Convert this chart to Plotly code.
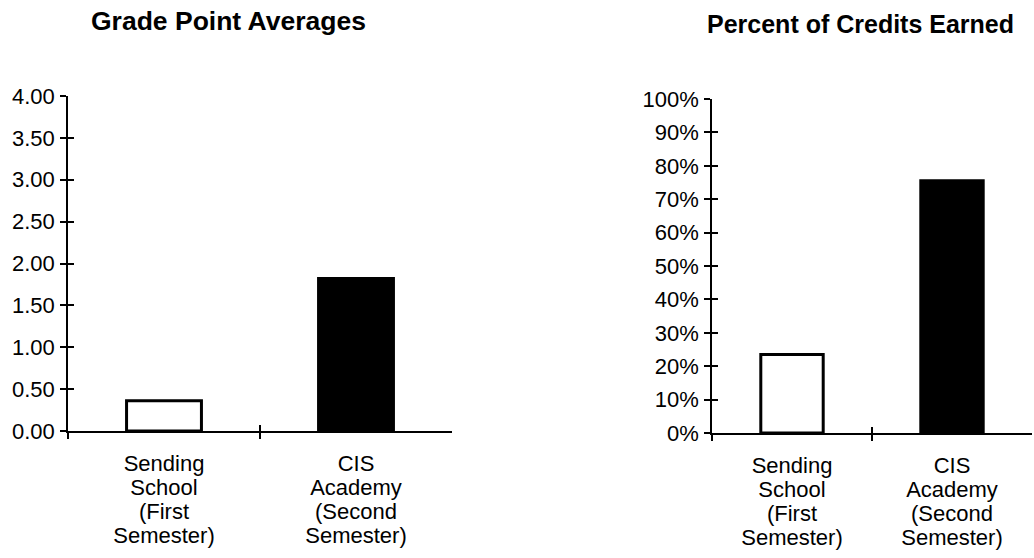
import plotly.graph_objects as go

# --- data ---
categories = ["Sending School (First Semester)", "CIS Academy (Second Semester)"]
label_lines = [
    ["Sending", "School", "(First", "Semester)"],
    ["CIS", "Academy", "(Second", "Semester)"],
]
gpa_values = [0.36, 1.82]
credit_pct_values = [23.5, 75.5]
bar_colors = ["white", "black"]

titles = ["Grade Point Averages", "Percent of Credits Earned"]

FONT = "Liberation Sans, Arial, sans-serif"
W, H = 1034, 558

fig = go.Figure()

# panels: axis ids, values, domains, value range and tick format
panels = [
    dict(x="x", y="y", vals=gpa_values, xdom=[68 / W, 452 / W],
         ydom=[1 - 431 / H, 1 - 96 / H], yrange=[0, 4], dtick=0.5,
         fmt=".2f", suffix=""),
    dict(x="x2", y="y2", vals=credit_pct_values, xdom=[712 / W, 1032 / W],
         ydom=[1 - 433 / H, 1 - 99 / H], yrange=[0, 100], dtick=10,
         fmt="d", suffix="%"),
]

layout = {}
next_ax = 3

def ax_key(prefix, n):
    return f"{prefix}axis{n}" if n > 1 else f"{prefix}axis"

for p in panels:
    fig.add_trace(go.Bar(
        x=categories, y=p["vals"], xaxis=p["x"], yaxis=p["y"],
        width=0.39,
        marker=dict(color=bar_colors, line=dict(color="black", width=3)),
        showlegend=False, hoverinfo="skip",
    ))
    xn = 1 if p["x"] == "x" else int(p["x"][1:])
    yn = 1 if p["y"] == "y" else int(p["y"][1:])

    # main category axis: crossing ticks at category boundaries (outer half)
    layout[ax_key("x", xn)] = dict(
        domain=p["xdom"], anchor=p["y"], type="category", automargin=False,
        range=[-0.5, 1.5], tickson="boundaries", ticks="outside", ticklen=6,
        tickwidth=1.5, tickcolor="black", showticklabels=False,
        showline=True, linecolor="black", linewidth=1.5, showgrid=False,
        zeroline=False, fixedrange=True,
    )
    # main value axis with tick labels (outer half of crossing ticks)
    layout[ax_key("y", yn)] = dict(
        domain=p["ydom"], anchor=p["x"], range=p["yrange"], dtick=p["dtick"],
        tick0=0, tickformat=p["fmt"], ticksuffix=p["suffix"], automargin=False,
        ticks="outside", ticklen=6, tickwidth=1.5, tickcolor="black",
        ticklabelstandoff=1,
        showline=True, linecolor="black", linewidth=1.5, showgrid=False,
        zeroline=False, tickfont=dict(family=FONT, size=22, color="black"),
        fixedrange=True,
    )

    # inner half of the crossing value ticks
    yo = next_ax; next_ax += 1
    layout[ax_key("y", yo)] = dict(
        overlaying=p["y"], anchor=p["x"], range=p["yrange"], dtick=p["dtick"],
        tick0=0, ticks="inside", ticklen=6, tickwidth=1.5, tickcolor="black",
        showticklabels=False, showline=False, showgrid=False, zeroline=False,
        automargin=False, fixedrange=True,
    )
    fig.add_trace(go.Scatter(x=[None], y=[None], xaxis=p["x"], yaxis=f"y{yo}",
                             showlegend=False, hoverinfo="skip"))

    # inner half of the crossing category-boundary ticks
    xo = next_ax; next_ax += 1
    layout[ax_key("x", xo)] = dict(
        overlaying=p["x"], anchor=p["y"], range=[-0.5, 1.5],
        tickmode="array", tickvals=[0.5, 1.5], ticks="inside", ticklen=6,
        tickwidth=1.5, tickcolor="black", showticklabels=False,
        showline=False, showgrid=False, zeroline=False, automargin=False,
        fixedrange=True,
    )
    fig.add_trace(go.Scatter(x=[None], y=[None], xaxis=f"x{xo}", yaxis=p["y"],
                             showlegend=False, hoverinfo="skip"))

    # category labels, one stacked axis per text line
    for k in range(4):
        xl = next_ax; next_ax += 1
        layout[ax_key("x", xl)] = dict(
            overlaying=p["x"], anchor=p["y"], range=[-0.5, 1.5],
            tickmode="array", tickvals=[0, 1],
            ticktext=[label_lines[0][k], label_lines[1][k]],
            ticks="", ticklabelstandoff=17 + k * 24, automargin=False,
            tickfont=dict(family=FONT, size=22, color="black"),
            showline=False, showgrid=False, zeroline=False, fixedrange=True,
        )
        fig.add_trace(go.Scatter(x=[None], y=[None], xaxis=f"x{xl}", yaxis=p["y"],
                                 showlegend=False, hoverinfo="skip"))

annotations = [
    dict(text=f"<b>{titles[0]}</b>", x=228 / W, y=1 - 21 / H, xref="paper",
         yref="paper", xanchor="center", yanchor="middle", showarrow=False,
         font=dict(family=FONT, size=26.5, color="black")),
    dict(text=f"<b>{titles[1]}</b>", x=860 / W, y=1 - 24 / H, xref="paper",
         yref="paper", xanchor="center", yanchor="middle", showarrow=False,
         font=dict(family=FONT, size=25, color="black")),
]

fig.update_layout(
    width=W, height=H,
    margin=dict(l=0, r=0, t=0, b=0, autoexpand=False),
    paper_bgcolor="white", plot_bgcolor="white",
    annotations=annotations,
    bargap=0.6,
    **layout,
)

fig.write_html("out.html", config={"displayModeBar": False})
